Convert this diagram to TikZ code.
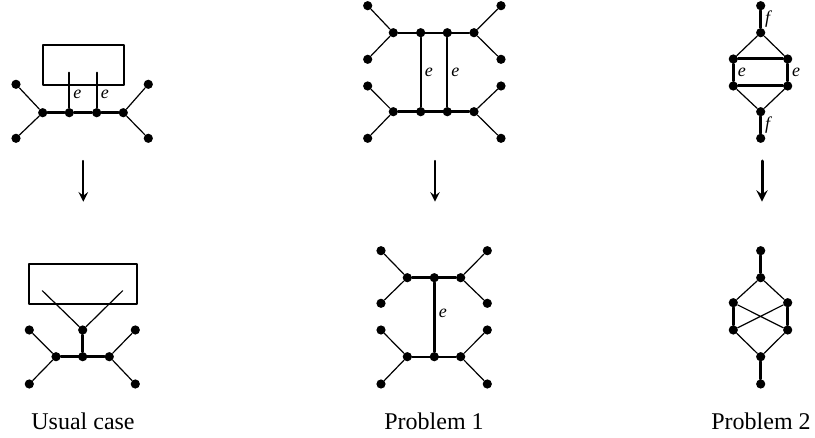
\documentclass[tikz,border=0pt]{standalone}
\usepackage{fontspec}
\setmainfont{Liberation Serif}
\begin{document}
\begin{tikzpicture}[x=0.5pt,y=-0.5pt,>=stealth,line join=round,line cap=round,
	dot/.style={circle,fill,inner sep=0pt,minimum size=4.6pt},
	leaf/.style={line width=0.6pt},
	mid/.style={line width=1.1pt},
	bar/.style={line width=1.5pt},
	lab/.style={font=\fontsize{9}{10}\selectfont\itshape,inner sep=1.5pt},
	captext/.style={font=\fontsize{12}{14}\selectfont}]
	\useasboundingbox (0,0) rectangle (815,438);
	\def\ya{112.7} \def\yb{356.7} % hang
	% Usual case, truoc
	\draw[mid] (43,45) rectangle (124,85);
	\node[dot] (a1) at (42.7,\ya) {};
	\node[dot] (a2) at (69.3,\ya) {};
	\node[dot] (a3) at (96.7,\ya) {};
	\node[dot] (a4) at (123.3,\ya) {};
	\node[dot] (la1) at (16,84.3) {};
	\node[dot] (la2) at (16,138.3) {};
	\node[dot] (la3) at (148.3,84.3) {};
	\node[dot] (la4) at (148.3,138.3) {};
	\coordinate (s1) at (69.3,72.7);
	\coordinate (s2) at (96.7,72.7);
	\draw[leaf] (la1)--(a1)--(la2) (la3)--(a4)--(la4);
	\draw[bar] (a1)--(a2)--(a3)--(a4);
	\draw[mid] (s1)--(a2) node[pos=0.62,right,lab]{e};
	\draw[mid] (s2)--(a3) node[pos=0.62,right,lab]{e};
	% Usual case, sau
	\draw[mid] (29,264) rectangle (136.7,304.3);
	\coordinate (t1) at (42.3,290.7);
	\coordinate (t2) at (122.7,290.7);
	\node[dot] (c) at (82.7,330) {};
	\node[dot] (b1) at (56,\yb) {};
	\node[dot] (b2) at (82.7,\yb) {};
	\node[dot] (b3) at (109.3,\yb) {};
	\node[dot] (lb1) at (29.3,330) {};
	\node[dot] (lb2) at (29.3,384) {};
	\node[dot] (lb3) at (135.3,330) {};
	\node[dot] (lb4) at (135.3,384) {};
	\draw[leaf] (t1)--(c)--(t2);
	\draw[leaf] (lb1)--(b1)--(lb2) (lb3)--(b3)--(lb4);
	\draw[bar] (c)--(b2) (b1)--(b3);
	\node[captext] (capa) at (83,421.7) {Usual case};
	% Problem 1, truoc
	\node[dot] (p1) at (393.3,32.7) {};
	\node[dot] (p2) at (420.7,32.7) {};
	\node[dot] (p3) at (447.3,32.7) {};
	\node[dot] (p4) at (474,32.7) {};
	\node[dot] (q1) at (393.3,111.7) {};
	\node[dot] (q2) at (420.7,111.7) {};
	\node[dot] (q3) at (447.3,111.7) {};
	\node[dot] (q4) at (474,111.7) {};
	\node[dot] (lp1) at (367.7,5.7) {};
	\node[dot] (lp2) at (367.7,59.3) {};
	\node[dot] (lp3) at (501,5.7) {};
	\node[dot] (lp4) at (501,59.3) {};
	\node[dot] (lq1) at (367.7,86) {};
	\node[dot] (lq2) at (367.7,138.3) {};
	\node[dot] (lq3) at (501,86) {};
	\node[dot] (lq4) at (501,138.3) {};
	\draw[leaf] (lp1)--(p1)--(lp2) (lp3)--(p4)--(lp4);
	\draw[leaf] (lq1)--(q1)--(lq2) (lq3)--(q4)--(lq4);
	\draw[mid] (p1)--(p4);
	\draw[bar] (q1)--(q4);
	\draw[mid] (p2)--(q2) node[midway,right,lab]{e};
	\draw[mid] (p3)--(q3) node[midway,right,lab]{e};
	% Problem 1, sau
	\node[dot] (r1) at (407.3,277.7) {};
	\node[dot] (r2) at (434.3,277.7) {};
	\node[dot] (r3) at (460.7,277.7) {};
	\node[dot] (u1) at (407.3,\yb) {};
	\node[dot] (u2) at (434.3,\yb) {};
	\node[dot] (u3) at (460.7,\yb) {};
	\node[dot] (lr1) at (381,250.7) {};
	\node[dot] (lr2) at (381,303.3) {};
	\node[dot] (lr3) at (487.3,250.7) {};
	\node[dot] (lr4) at (487.3,303.3) {};
	\node[dot] (lu1) at (381,330) {};
	\node[dot] (lu2) at (381,384) {};
	\node[dot] (lu3) at (487.3,330) {};
	\node[dot] (lu4) at (487.3,384) {};
	\draw[leaf] (lr1)--(r1)--(lr2) (lr3)--(r3)--(lr4);
	\draw[leaf] (lu1)--(u1)--(lu2) (lu3)--(u3)--(lu4);
	\draw[bar] (r1)--(r3);
	\draw[mid] (u1)--(u3);
	\draw[bar] (r2)--(u2) node[midway,right,lab,yshift=2pt]{e};
	\node[captext] (capb) at (434,421.7) {Problem 1};
	% Problem 2, truoc
	\node[dot] (v0) at (760.7,5.7) {};
	\node[dot] (v1) at (760.7,32.7) {};
	\node[dot] (v2) at (733.3,59) {};
	\node[dot] (v3) at (787.7,59) {};
	\node[dot] (v4) at (733.3,86) {};
	\node[dot] (v5) at (787.7,86) {};
	\node[dot] (v6) at (760.7,111.7) {};
	\node[dot] (v7) at (760.7,138.3) {};
	\draw[leaf] (v2)--(v1)--(v3) (v4)--(v6)--(v5);
	\draw[bar] (v2)--(v3) (v4)--(v5);
	\draw[bar] (v0)--(v1) node[midway,right,lab]{f};
	\draw[bar] (v6)--(v7) node[midway,right,lab]{f};
	\draw[bar] (v2)--(v4) node[midway,right,lab]{e};
	\draw[bar] (v3)--(v5) node[midway,right,lab]{e};
	% Problem 2, sau
	\node[dot] (w0) at (760.7,250.7) {};
	\node[dot] (w1) at (760.7,277.7) {};
	\node[dot] (w2) at (733.3,302.7) {};
	\node[dot] (w3) at (787.7,302.7) {};
	\node[dot] (w4) at (733.3,330) {};
	\node[dot] (w5) at (787.7,330) {};
	\node[dot] (w6) at (760.7,\yb) {};
	\node[dot] (w7) at (760.7,384) {};
	\draw[leaf] (w2)--(w1)--(w3) (w4)--(w6)--(w5);
	\draw[leaf] (w2)--(w5) (w3)--(w4);
	\draw[bar] (w0)--(w1) (w6)--(w7) (w2)--(w4) (w3)--(w5);
	\node[captext] (capc) at (761,421.7) {Problem 2};
	% mui ten
	\foreach \n/\x in {1/83.3,2/435,3/762}{
		\coordinate (ar\n) at (\x,161);
		\coordinate (br\n) at (\x,201.7);
	}
	\draw[->,mid] (ar1)--(br1);
	\draw[->,mid] (ar2)--(br2);
	\draw[->,bar] (ar3)--(br3);
\end{tikzpicture}
\end{document}
